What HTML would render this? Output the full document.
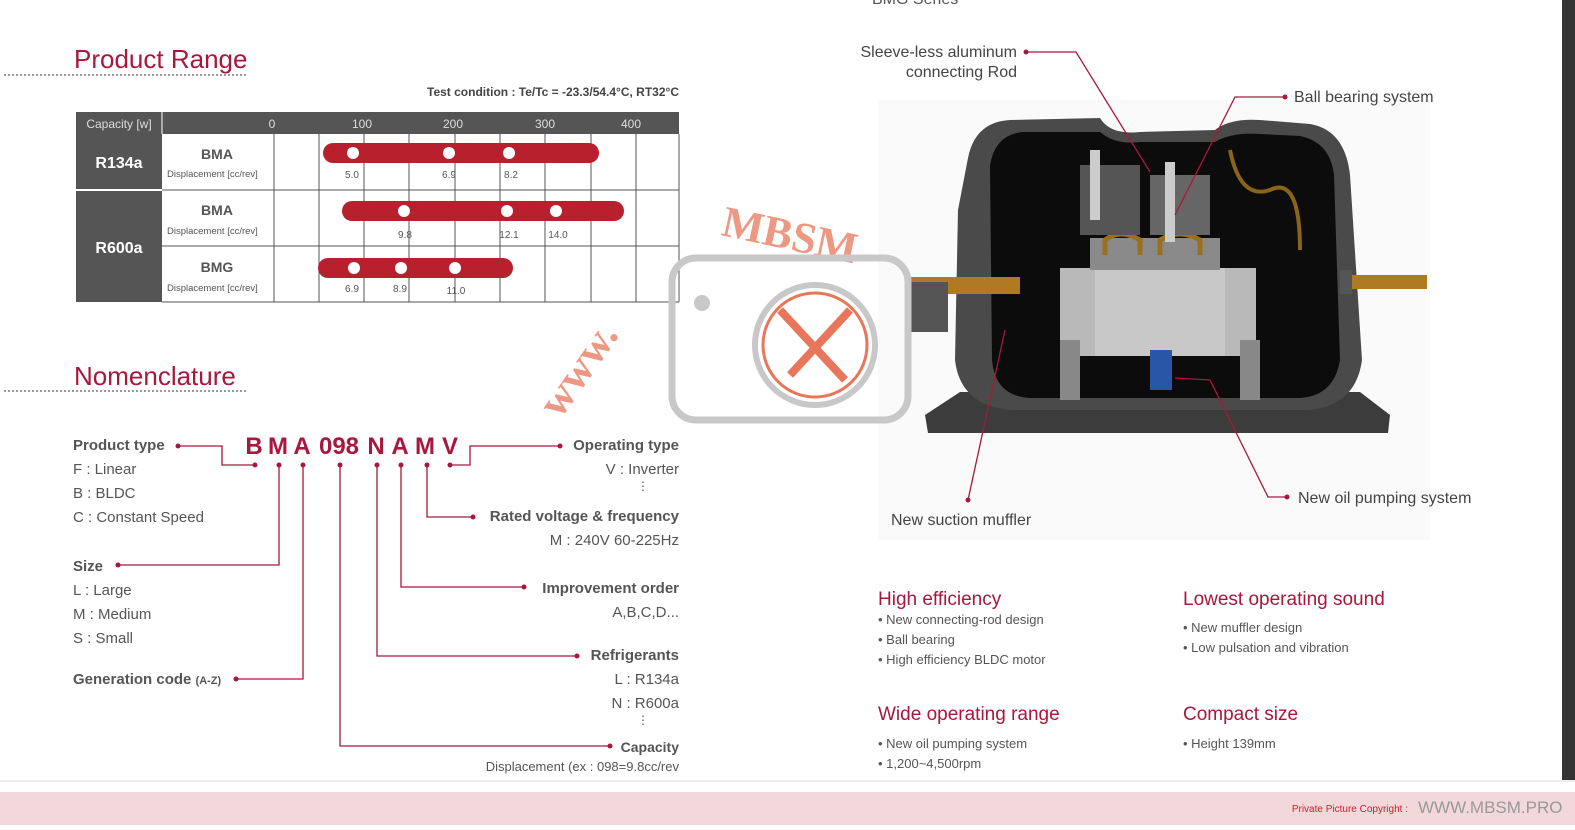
<!DOCTYPE html>
<html><head><meta charset="utf-8"><style>
html,body{margin:0;padding:0;background:#fff}
body{width:1575px;height:825px;position:relative;overflow:hidden;font-family:"Liberation Sans",sans-serif}
</style></head><body>
<svg width="1575" height="825" viewBox="0 0 1575 825" xmlns="http://www.w3.org/2000/svg" font-family="Liberation Sans, sans-serif">
<text x="74" y="68" font-size="26" fill="#a8173d">Product Range</text>
<line x1="4" y1="75" x2="248" y2="75" stroke="#999" stroke-width="2" stroke-dasharray="2,2"/>
<text x="74" y="385" font-size="26" fill="#a8173d">Nomenclature</text>
<line x1="4" y1="391" x2="246" y2="391" stroke="#999" stroke-width="2" stroke-dasharray="2,2"/>
<text x="872" y="4" font-size="16" fill="#555">BMG Series</text>

<text x="679" y="96" font-size="12" font-weight="bold" fill="#444" text-anchor="end">Test condition : Te/Tc = -23.3/54.4°C, RT32°C</text>
<rect x="76" y="112" width="603" height="22" fill="#555"/>
<rect x="76" y="134" width="86" height="168" fill="#555"/>
<line x1="76" y1="190" x2="162" y2="190" stroke="#fff" stroke-width="2"/>
<line x1="162" y1="112" x2="162" y2="134" stroke="#fff" stroke-width="1"/>
<text x="119" y="128" font-size="12" fill="#ddd" text-anchor="middle">Capacity [w]</text>
<g font-size="12" fill="#ddd" text-anchor="middle"><text x="272" y="128">0</text><text x="362" y="128">100</text><text x="453" y="128">200</text><text x="545" y="128">300</text><text x="631" y="128">400</text></g>
<text x="119" y="168" font-size="16" font-weight="bold" fill="#fff" text-anchor="middle">R134a</text>
<text x="119" y="253" font-size="16" font-weight="bold" fill="#fff" text-anchor="middle">R600a</text>
<g stroke="#555" stroke-width="1">
<line x1="162" y1="190" x2="679" y2="190"/><line x1="162" y1="246" x2="679" y2="246"/><line x1="162" y1="302" x2="679" y2="302"/>
<line x1="274" y1="134" x2="274" y2="302"/><line x1="319" y1="134" x2="319" y2="302"/><line x1="364" y1="134" x2="364" y2="302"/><line x1="409" y1="134" x2="409" y2="302"/><line x1="455" y1="134" x2="455" y2="302"/><line x1="500" y1="134" x2="500" y2="302"/><line x1="545" y1="134" x2="545" y2="302"/><line x1="591" y1="134" x2="591" y2="302"/><line x1="636" y1="134" x2="636" y2="302"/><line x1="679" y1="134" x2="679" y2="302"/>
</g>
<g font-size="14" font-weight="bold" fill="#555" text-anchor="middle"><text x="217" y="159">BMA</text><text x="217" y="215">BMA</text><text x="217" y="272">BMG</text></g>
<g font-size="9.5" fill="#555"><text x="167" y="177">Displacement [cc/rev]</text><text x="167" y="234">Displacement [cc/rev]</text><text x="167" y="291">Displacement [cc/rev]</text></g>
<g fill="#b9202d"><rect x="323" y="143" width="276" height="20" rx="10"/><rect x="342" y="201" width="282" height="20" rx="10"/><rect x="318" y="258" width="195" height="20" rx="10"/></g>
<g fill="#fff"><circle cx="353" cy="153" r="6"/><circle cx="449" cy="153" r="6"/><circle cx="509" cy="153" r="6"/><circle cx="404" cy="211" r="6"/><circle cx="507" cy="211" r="6"/><circle cx="556" cy="211" r="6"/><circle cx="354" cy="268" r="6"/><circle cx="401" cy="268" r="6"/><circle cx="455" cy="268" r="6"/></g>
<g font-size="10" fill="#555" text-anchor="middle"><text x="352" y="178">5.0</text><text x="449" y="178">6.9</text><text x="511" y="178">8.2</text><text x="405" y="238">9.8</text><text x="509" y="238">12.1</text><text x="558" y="238">14.0</text><text x="352" y="292">6.9</text><text x="400" y="292">8.9</text><text x="456" y="294">11.0</text></g>

<g font-size="24" font-weight="bold" fill="#a8173d" text-anchor="middle"><text x="254" y="454">B</text><text x="278" y="454">M</text><text x="302" y="454">A</text><text x="339" y="454">098</text><text x="376" y="454">N</text><text x="400" y="454">A</text><text x="425" y="454">M</text><text x="450" y="454">V</text></g>
<g stroke="#a8173d" stroke-width="1.3" fill="none">
<polyline points="178,446 222,446 222,465 255,465"/>
<polyline points="279,465 279,565 118,565"/>
<polyline points="303,465 303,679 236,679"/>
<polyline points="340,465 340,746 610,746"/>
<polyline points="377,465 377,656 577,656"/>
<polyline points="401,465 401,587 524,587"/>
<polyline points="427,465 427,517 473,517"/>
<polyline points="450,465 470,465 470,446 560,446"/>
</g>
<g fill="#a8173d"><circle cx="178" cy="446" r="2.5"/><circle cx="255" cy="465" r="2.5"/><circle cx="279" cy="465" r="2.5"/><circle cx="303" cy="465" r="2.5"/><circle cx="340" cy="465" r="2.5"/><circle cx="377" cy="465" r="2.5"/><circle cx="401" cy="465" r="2.5"/><circle cx="427" cy="465" r="2.5"/><circle cx="450" cy="465" r="2.5"/><circle cx="118" cy="565" r="2.5"/><circle cx="236" cy="679" r="2.5"/><circle cx="610" cy="746" r="2.5"/><circle cx="577" cy="656" r="2.5"/><circle cx="524" cy="587" r="2.5"/><circle cx="473" cy="517" r="2.5"/><circle cx="560" cy="446" r="2.5"/></g>
<g font-size="15" fill="#555">
<text x="73" y="450" font-weight="bold">Product type</text>
<text x="73" y="474">F : Linear</text><text x="73" y="498">B : BLDC</text><text x="73" y="522">C : Constant Speed</text>
<text x="73" y="571" font-weight="bold">Size</text>
<text x="73" y="595">L : Large</text><text x="73" y="619">M : Medium</text><text x="73" y="643">S : Small</text>
<text x="73" y="684" font-weight="bold">Generation code <tspan font-size="11">(A-Z)</tspan></text>
</g>
<g font-size="15" fill="#555" text-anchor="end">
<text x="679" y="450" font-weight="bold">Operating type</text><text x="679" y="474">V : Inverter</text><text x="649" y="490" font-size="12">⋮</text>
<text x="679" y="521" font-weight="bold">Rated voltage &amp; frequency</text><text x="679" y="545">M : 240V 60-225Hz</text>
<text x="679" y="593" font-weight="bold">Improvement order</text><text x="679" y="617">A,B,C,D...</text>
<text x="679" y="660" font-weight="bold">Refrigerants</text><text x="679" y="684">L : R134a</text><text x="679" y="708">N : R600a</text><text x="649" y="724" font-size="12">⋮</text>
<text x="679" y="752" font-weight="bold" font-size="14">Capacity</text><text x="679" y="771" font-size="13">Displacement (ex : 098=9.8cc/rev</text>
</g>

<!-- Compressor illustration -->
<rect x="878" y="100" width="552" height="440" fill="#fafafa"/>
<path d="M925,415 L960,392 L1360,392 L1390,415 L1388,433 L928,433 Z" fill="#3c3c3c"/>
<path d="M958,210 L968,158 Q975,122 1010,120 L1100,118 Q1110,135 1140,132 L1215,130 Q1230,118 1260,120 L1310,124 Q1345,130 1350,175 L1362,360 Q1356,405 1310,410 L1010,410 Q960,405 955,360 Z" fill="#4a4a4a"/>
<path d="M990,165 Q995,135 1022,132 L1100,132 Q1115,145 1140,142 L1215,142 Q1232,132 1260,134 L1300,136 Q1330,142 1334,175 L1340,360 Q1334,396 1300,398 L1030,398 Q995,396 992,360 Z" fill="#0c0c0c"/>
<rect x="1060" y="268" width="196" height="88" fill="#b9b9b9"/>
<rect x="1095" y="268" width="130" height="88" fill="#c8c8c8"/>
<rect x="1090" y="238" width="130" height="32" fill="#8a8a8a"/>
<path d="M1105,255 L1105,240 Q1120,228 1140,240 L1140,255" stroke="#9a7020" stroke-width="5" fill="none"/>
<path d="M1160,255 L1160,240 Q1180,228 1200,240 L1200,255" stroke="#9a7020" stroke-width="5" fill="none"/>
<rect x="1080" y="165" width="60" height="70" fill="#555"/>
<rect x="1150" y="175" width="60" height="60" fill="#666"/>
<rect x="1090" y="150" width="10" height="70" fill="#ccc"/><rect x="1165" y="162" width="10" height="80" fill="#ccc"/>
<path d="M1230,150 Q1240,200 1270,190 Q1300,175 1300,250" stroke="#8a6418" stroke-width="4" fill="none"/>
<rect x="1060" y="340" width="20" height="60" fill="#888"/><rect x="1240" y="340" width="20" height="60" fill="#888"/>
<rect x="1150" y="350" width="22" height="40" fill="#2a55a8"/>
<rect x="910" y="277" width="110" height="17" fill="#b07a22"/>
<rect x="1345" y="275" width="82" height="14" fill="#b07a22"/>
<rect x="1340" y="270" width="12" height="24" fill="#555"/>
<rect x="908" y="282" width="40" height="50" fill="#555"/>
<!-- watermark -->
<text x="560" y="420" font-size="44" font-family="Liberation Serif, serif" font-weight="bold" fill="#e8765a" opacity="0.75" transform="rotate(-55 560 420)">www.</text>
<text x="720" y="235" font-size="44" font-family="Liberation Serif, serif" font-weight="bold" fill="#e8765a" opacity="0.75" transform="rotate(12 720 235)">MBSM</text>
<rect x="672" y="258" width="236" height="162" rx="24" fill="none" stroke="#c8c8c8" stroke-width="7"/>
<circle cx="815" cy="345" r="60" fill="none" stroke="#c8c8c8" stroke-width="6"/>
<circle cx="815" cy="345" r="52" fill="none" stroke="#e8765a" stroke-width="3"/>
<circle cx="702" cy="303" r="8" fill="#c8c8c8"/>
<line x1="780" y1="310" x2="845" y2="380" stroke="#e8765a" stroke-width="8"/>
<line x1="850" y1="310" x2="790" y2="375" stroke="#e8765a" stroke-width="8"/>

<g stroke="#a8173d" stroke-width="1.3" fill="none">
<polyline points="1026,52 1076,52 1150,172"/>
<polyline points="1285,97 1235,97 1175,215"/>
<polyline points="968,500 1005,330"/>
<polyline points="1287,497 1268,497 1210,380 1175,378"/>
</g>
<g fill="#a8173d"><circle cx="1026" cy="52" r="2.5"/><circle cx="1285" cy="97" r="2.5"/><circle cx="968" cy="500" r="2.5"/><circle cx="1287" cy="497" r="2.5"/></g>
<g font-size="16" fill="#444">
<text x="1017" y="57" text-anchor="end">Sleeve-less aluminum</text>
<text x="1017" y="77" text-anchor="end">connecting Rod</text>
<text x="1294" y="102">Ball bearing system</text>
<text x="891" y="525">New suction muffler</text>
<text x="1298" y="503">New oil pumping system</text>
</g>

<g font-size="19" fill="#a8173d"><text x="878" y="605">High efficiency</text><text x="1183" y="605">Lowest operating sound</text><text x="878" y="720">Wide operating range</text><text x="1183" y="720">Compact size</text></g>
<g font-size="13" fill="#555">
<text x="878" y="624">• New connecting-rod design</text><text x="878" y="644">• Ball bearing</text><text x="878" y="664">• High efficiency BLDC motor</text>
<text x="1183" y="632">• New muffler design</text><text x="1183" y="652">• Low pulsation and vibration</text>
<text x="878" y="748">• New oil pumping system</text><text x="878" y="768">• 1,200~4,500rpm</text>
<text x="1183" y="748">• Height 139mm</text>
</g>
<rect x="1562" y="0" width="13" height="780" fill="#333"/>
<line x1="0" y1="781" x2="1575" y2="781" stroke="#ddd"/>
<rect x="0" y="792" width="1575" height="33" fill="#f2d8da"/>
<text x="1408" y="812" font-size="10" fill="#d0202a" text-anchor="end">Private Picture Copyright :</text>
<text x="1418" y="813" font-size="17" fill="#999">WWW.MBSM.PRO</text>
</svg>
</body></html>
